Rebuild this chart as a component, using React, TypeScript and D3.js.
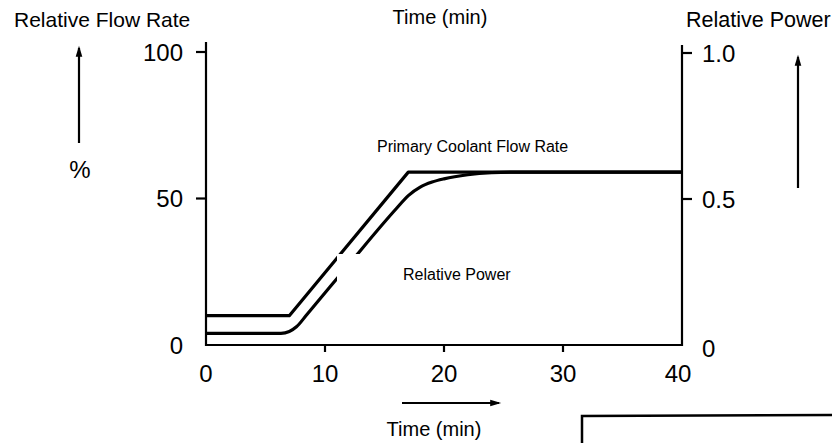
import React from "react";
import * as d3 from "d3";

// Time axis (min)
const timeTicks = [0, 10, 20, 30, 40];
const timeTickMarks = [10, 20, 30];

// Left axis: relative flow rate (%)
const flowTicks = [0, 50, 100];
const flowTickMarks = [50, 100];

// Right axis: relative power
const powerTicks = [0, 0.5, 1.0];
const powerTickMarks = [0.5, 1.0];

// Primary coolant flow rate (%) over time (min)
const flowTime = [0, 7, 17, 40];
const flowValue = [10, 10, 59, 59];

// Relative power (expressed in % of the left axis) over time (min)
const powerTime = [0, 6.3, 7.0, 7.6, 8.5, 12, 16, 17, 18, 19, 20, 22, 24, 26, 40];
const powerValue = [4, 4, 4.6, 6.2, 10.5, 27.5, 46.6, 51.0, 53.9, 55.6, 56.7, 58.1, 58.8, 59, 59];

const W = 832;
const H = 443;
const FONT = "'Liberation Sans', Arial, Helvetica, sans-serif";

export default function App() {
  const x = d3.scaleLinear().domain([0, 40]).range([206, 682]);
  const yFlow = d3.scaleLinear().domain([0, 100]).range([345, 52]);
  const yPower = d3.scaleLinear().domain([0, 1]).range([345, 53]);

  const flowPath = d3
    .line<[number, number]>()
    .x((d) => x(d[0]))
    .y((d) => yFlow(d[1]))
    .curve(d3.curveLinear)(flowTime.map((t, i) => [t, flowValue[i]]))!;
  const powerPath = d3
    .line<[number, number]>()
    .x((d) => x(d[0]))
    .y((d) => yFlow(d[1]))
    .curve(d3.curveMonotoneX)(powerTime.map((t, i) => [t, powerValue[i]]))!;

  const x0 = x(0);
  const x1 = x(40);
  const yBase = yFlow(0);

  return (
    <div style={{ position: "fixed", left: 0, top: 0 }}>
      <svg width={W} height={H} viewBox={`0 0 ${W} ${H}`} style={{ display: "block", background: "#fff" }}>
        <defs>
          <marker id="arrowHead" viewBox="0 0 10 10" refX="8" refY="5" markerWidth="7" markerHeight="5" orient="auto" markerUnits="strokeWidth">
            <path d="M0,2 L10,5 L0,8 Z" fill="#000" />
          </marker>
        </defs>

        {/* axis titles */}
        <text x={14} y={27} fontFamily={FONT} fontSize={21} fill="#000">Relative Flow Rate</text>
        <text x={686} y={27} fontFamily={FONT} fontSize={21.5} fill="#000">Relative Power</text>
        <text x={440} y={24} fontFamily={FONT} fontSize={20} fill="#000" textAnchor="middle">Time (min)</text>
        <text x={434} y={436} fontFamily={FONT} fontSize={20} fill="#000" textAnchor="middle">Time (min)</text>

        {/* direction arrows */}
        <line x1={79} y1={143} x2={79} y2={48} stroke="#000" strokeWidth={2.2} markerEnd="url(#arrowHead)" />
        <text x={80} y={178} fontFamily={FONT} fontSize={24} fill="#000" textAnchor="middle">%</text>
        <line x1={798} y1={188} x2={798} y2={57} stroke="#000" strokeWidth={2.2} markerEnd="url(#arrowHead)" />
        <line x1={402} y1={403} x2={499} y2={403} stroke="#000" strokeWidth={2.2} markerEnd="url(#arrowHead)" />

        {/* frame: left, bottom and right axes */}
        <path
          d={`M${x0},42 L${x0},${yBase} L${x1},${yBase} L${x1},45`}
          fill="none"
          stroke="#000"
          strokeWidth={2.2}
        />

        {/* left ticks */}
        {flowTickMarks.map((v) => (
          <line key={`lt${v}`} x1={x0 - 10} x2={x0} y1={yFlow(v)} y2={yFlow(v)} stroke="#000" strokeWidth={2.2} />
        ))}
        {flowTicks.map((v) => (
          <text key={`ll${v}`} x={183} y={yFlow(v)} dy="0.36em" fontFamily={FONT} fontSize={24} fill="#000" textAnchor="end">
            {v}
          </text>
        ))}

        {/* right ticks */}
        {powerTickMarks.map((v) => (
          <line key={`rt${v}`} x1={x1} x2={x1 + 10} y1={yPower(v)} y2={yPower(v)} stroke="#000" strokeWidth={2.2} />
        ))}
        {powerTicks.map((v) => (
          <text key={`rl${v}`} x={702} y={yPower(v) + (v === 0 ? 3 : 0)} dy="0.36em" fontFamily={FONT} fontSize={24} fill="#000">
            {v === 0 ? "0" : v.toFixed(1)}
          </text>
        ))}

        {/* bottom ticks */}
        {timeTickMarks.map((t) => (
          <line key={`bt${t}`} x1={x(t)} x2={x(t)} y1={yBase} y2={yBase + 7} stroke="#000" strokeWidth={2.2} />
        ))}
        {timeTicks.map((t) => (
          <text key={`bl${t}`} x={x(t) - (t === 40 ? 4 : 0)} y={373} dy="0.36em" fontFamily={FONT} fontSize={24} fill="#000" textAnchor="middle">
            {t}
          </text>
        ))}

        {/* curves */}
        <path d={flowPath} fill="none" stroke="#000" strokeWidth={3.2} strokeLinejoin="round" />
        <path d={powerPath} fill="none" stroke="#000" strokeWidth={3.2} strokeLinejoin="round" />

        {/* curve labels */}
        <text x={377} y={152} fontFamily={FONT} fontSize={16} fill="#000">Primary Coolant Flow Rate</text>
        <rect x={337} y={254} width={185} height={28} fill="#fff" />
        <text x={403} y={280} fontFamily={FONT} fontSize={16} fill="#000">Relative Power</text>

        {/* adjoining frame at lower right */}
        <path d={`M582,${H} L582,416 L${W},415`} fill="none" stroke="#000" strokeWidth={2.5} />
      </svg>
    </div>
  );
}
